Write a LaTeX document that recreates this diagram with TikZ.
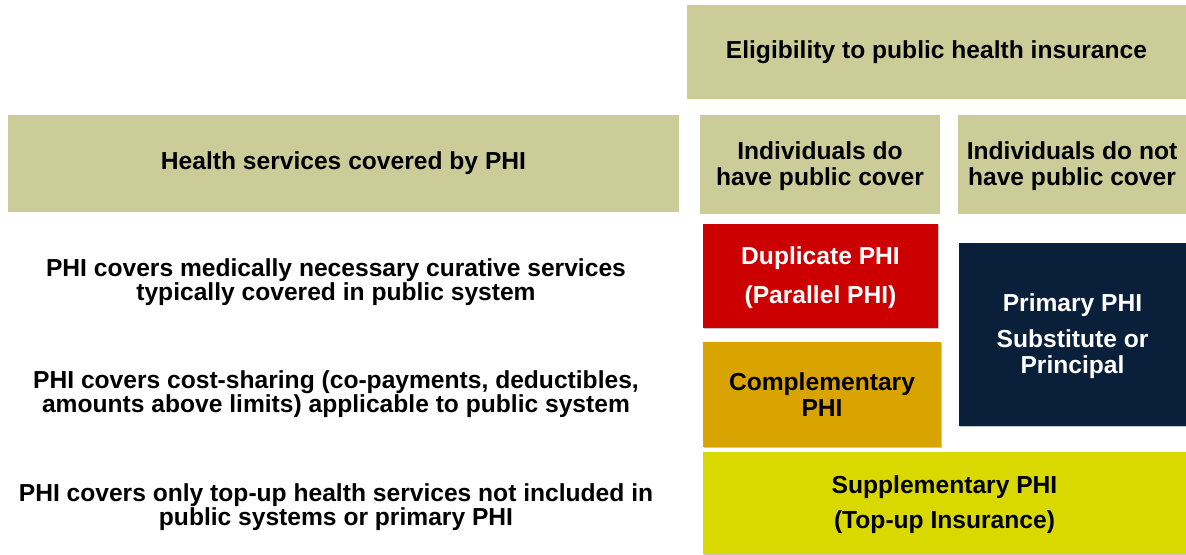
\documentclass[tikz,border=0pt]{standalone}
\usepackage{fontspec}
\setmainfont{Liberation Sans}
\usetikzlibrary{shadows,positioning}

\definecolor{khaki}{RGB}{204,204,153}
\definecolor{dupred}{RGB}{204,0,0}
\definecolor{compgold}{RGB}{217,164,0}
\definecolor{primnavy}{RGB}{10,31,58}
\definecolor{suppyellow}{RGB}{217,217,0}

\begin{document}
\begin{tikzpicture}
[header/.style={shape=rectangle,fill=khaki,inner sep=0pt,align=center,
  font=\fontsize{17.5}{18.5}\selectfont\bfseries},
phibox/.style={shape=rectangle,inner sep=0pt,align=center,
  font=\fontsize{17.5}{18.5}\selectfont\bfseries,
  drop shadow={shadow xshift=0.5pt,shadow yshift=-0.8pt,opacity=0.45}},
rowtext/.style={align=center,font=\fontsize{17.5}{17}\selectfont\bfseries}]

\useasboundingbox (0,0) rectangle (29.65,-13.85);

% header row
\node (elig) [header,minimum width=12.475cm,minimum height=2.35cm] at (23.41,-1.3)
  {Eligibility to public health insurance};
\node (hs) [header,minimum width=16.775cm,minimum height=2.425cm] at (8.5875,-4.0875)
  {Health services covered by PHI};
\node (dohave) [header,minimum width=6cm,minimum height=2.475cm,text depth=0.3ex] at (20.5,-4.1125)
  {Individuals do\\have public cover};
\node (donot) [header,minimum width=5.7cm,minimum height=2.475cm,text depth=0.3ex] at (26.8,-4.1125)
  {Individuals do not\\have public cover};

% row labels
\node (r1) [rowtext] at (8.4,-7.05)
  {PHI covers medically necessary curative services\\typically covered in public system};
\node (r2) [rowtext] at (8.4,-9.85)
  {PHI covers cost-sharing (co-payments, deductibles,\\amounts above limits) applicable to public system};
\node (r3) [rowtext] at (8.4,-12.67)
  {PHI covers only top-up health services not included in\\public systems or primary PHI};

% PHI types
\node (dup) [phibox,fill=dupred,text=white,minimum width=5.875cm,minimum height=2.6cm,text depth=0.3ex]
  at (20.5125,-6.9) {Duplicate PHI\\[9.5pt](Parallel PHI)};
\node (comp) [phibox,fill=compgold,minimum width=5.95cm,minimum height=2.625cm]
  at (20.55,-9.8625) {Complementary\\PHI};
\node (prim) [phibox,fill=primnavy,text=white,minimum width=5.675cm,minimum height=4.575cm,text depth=0.3ex]
  at (26.8125,-8.3625) {Primary PHI\\[7.5pt]Substitute or\\Principal};
\node (supp) [phibox,fill=suppyellow,minimum width=12.075cm,minimum height=2.55cm,text depth=0.3ex]
  at (23.6125,-12.575) {Supplementary PHI\\[6.5pt](Top-up Insurance)};

\end{tikzpicture}
\end{document}
